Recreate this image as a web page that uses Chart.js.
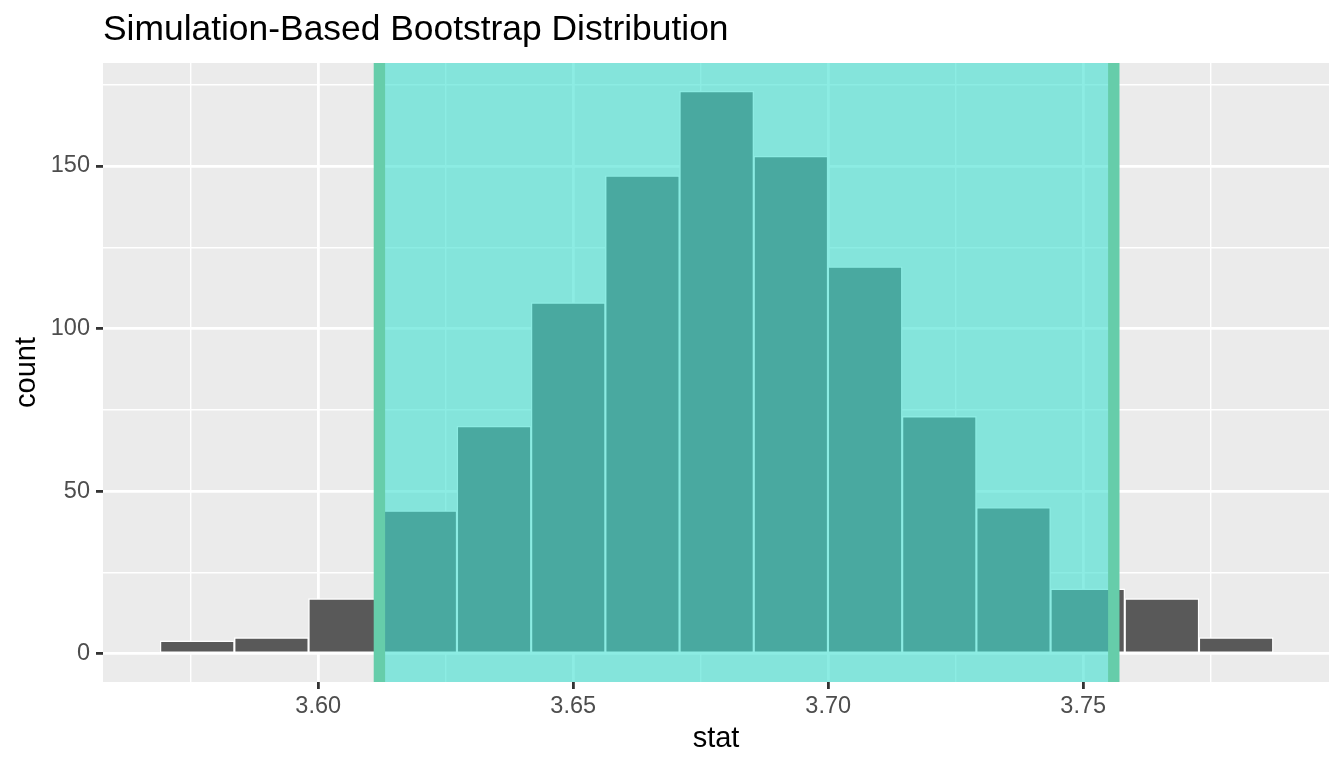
<!DOCTYPE html>
<html>
<head>
<meta charset="utf-8">
<script src="https://cdn.jsdelivr.net/npm/chart.js@4.4.1/dist/chart.umd.min.js"></script>
<style>
  html, body { margin: 0; padding: 0; background: #ffffff; }
  canvas { display: block; }
</style>
</head>
<body>
<canvas id="Chart01" width="1344" height="768"></canvas>
<script>
/* Data */
const binCenters = [3.57628, 3.59083, 3.60538, 3.61993, 3.63448, 3.64903, 3.66358, 3.67813,
                    3.69268, 3.70723, 3.72178, 3.73633, 3.75088, 3.76543, 3.77998];
const binCounts = [4, 5, 17, 44, 70, 108, 147, 173, 153, 119, 73, 45, 20, 17, 5];
const ciBounds = [3.612, 3.756];

/* Ticks: every gridline, and the ones that get a label */
const xTicks = [3.575, 3.600, 3.625, 3.650, 3.675, 3.700, 3.725, 3.750, 3.775];
const xLabelTicks = [3.60, 3.65, 3.70, 3.75];
const yTicks = [0, 25, 50, 75, 100, 125, 150, 175];
const yLabelTicks = [0, 50, 100, 150];

const titleText = 'Simulation-Based Bootstrap Distribution';
const fontFamily = '"Liberation Sans", Arial, Helvetica, sans-serif';

function isLabelled(list, v) {
  return list.some(t => Math.abs(t - v) < 1e-9);
}

/* Panel background under the grid */
const panelBackground = {
  id: 'panelBackground',
  beforeDraw(chart) {
    const {ctx, chartArea: a} = chart;
    ctx.save();
    ctx.fillStyle = '#ebebeb';
    ctx.fillRect(a.left, a.top, a.right - a.left, a.bottom - a.top);
    ctx.restore();
  }
};

/* Confidence interval shade drawn over the bars */
const ciShade = {
  id: 'ciShade',
  afterDatasetsDraw(chart) {
    const {ctx, chartArea: a, scales} = chart;
    const x0 = scales.x.getPixelForValue(ciBounds[0]);
    const x1 = scales.x.getPixelForValue(ciBounds[1]);
    ctx.save();
    ctx.beginPath();
    ctx.rect(a.left, a.top, a.right - a.left, a.bottom - a.top);
    ctx.clip();
    ctx.fillStyle = 'rgba(64, 224, 208, 0.6)';
    ctx.fillRect(x0, a.top, x1 - x0, a.bottom - a.top);
    ctx.strokeStyle = '#66cdaa';
    ctx.lineWidth = 11.4;
    [x0, x1].forEach(px => {
      ctx.beginPath();
      ctx.moveTo(px, a.top);
      ctx.lineTo(px, a.bottom);
      ctx.stroke();
    });
    ctx.restore();
  }
};

/* Title aligned to the panel's left edge */
const panelTitle = {
  id: 'panelTitle',
  afterDraw(chart) {
    const {ctx, chartArea: a} = chart;
    ctx.save();
    ctx.fillStyle = '#000000';
    ctx.font = '35.4px ' + fontFamily;
    ctx.textBaseline = 'alphabetic';
    ctx.textAlign = 'left';
    ctx.fillText(titleText, a.left, 40);
    ctx.restore();
  }
};

const config01 = {
  type: 'bar',
  data: {
    datasets: [{
      label: 'count',
      data: binCenters.map((c, i) => ({x: c, y: binCounts[i]})),
      backgroundColor: '#595959',
      borderColor: '#ffffff',
      borderWidth: 1.4,
      borderSkipped: false,
      barPercentage: 1,
      categoryPercentage: 1
    }]
  },
  options: {
    responsive: false,
    animation: false,
    devicePixelRatio: 1,
    layout: {padding: {top: 63, right: 15, bottom: 0, left: 0}},
    plugins: {
      legend: {display: false},
      title: {display: false},
      tooltip: {enabled: false}
    },
    scales: {
      x: {
        type: 'linear',
        offset: false,
        min: 3.5578,
        max: 3.7982,
        afterBuildTicks: s => { s.ticks = xTicks.map(v => ({value: v})); },
        afterFit: s => { s.height = 86; },
        ticks: {
          autoSkip: false,
          maxRotation: 0,
          padding: 3,
          color: '#4d4d4d',
          font: {family: fontFamily, size: 23.5},
          callback: v => isLabelled(xLabelTicks, v) ? v.toFixed(2) : ''
        },
        grid: {
          offset: false,
          color: '#ffffff',
          lineWidth: c => (c.tick && isLabelled(xLabelTicks, c.tick.value)) ? 2.8 : 1.4,
          tickColor: c => (c.tick && isLabelled(xLabelTicks, c.tick.value)) ? '#333333' : 'rgba(0,0,0,0)',
          tickWidth: 2.8,
          tickLength: 7
        },
        border: {display: false},
        title: {
          display: true,
          text: 'stat',
          color: '#000000',
          font: {family: fontFamily, size: 29},
          padding: {top: 0, bottom: 12}
        }
      },
      y: {
        type: 'linear',
        min: -8.65,
        max: 181.65,
        afterBuildTicks: s => { s.ticks = yTicks.map(v => ({value: v})); },
        afterFit: s => { s.width = 103; },
        ticks: {
          padding: 6,
          color: '#4d4d4d',
          font: {family: fontFamily, size: 23.5},
          callback: v => isLabelled(yLabelTicks, v) ? String(v) : ''
        },
        grid: {
          color: '#ffffff',
          lineWidth: c => (c.tick && isLabelled(yLabelTicks, c.tick.value)) ? 2.8 : 1.4,
          tickColor: c => (c.tick && isLabelled(yLabelTicks, c.tick.value)) ? '#333333' : 'rgba(0,0,0,0)',
          tickWidth: 2.8,
          tickLength: 7
        },
        border: {display: false},
        title: {
          display: true,
          text: 'count',
          color: '#000000',
          font: {family: fontFamily, size: 29},
          padding: {top: 10, bottom: 0}
        }
      }
    }
  },
  plugins: [panelBackground, ciShade, panelTitle]
};

const ctxch01 = document.getElementById('Chart01');
new Chart(ctxch01, config01);
</script>
</body>
</html>
